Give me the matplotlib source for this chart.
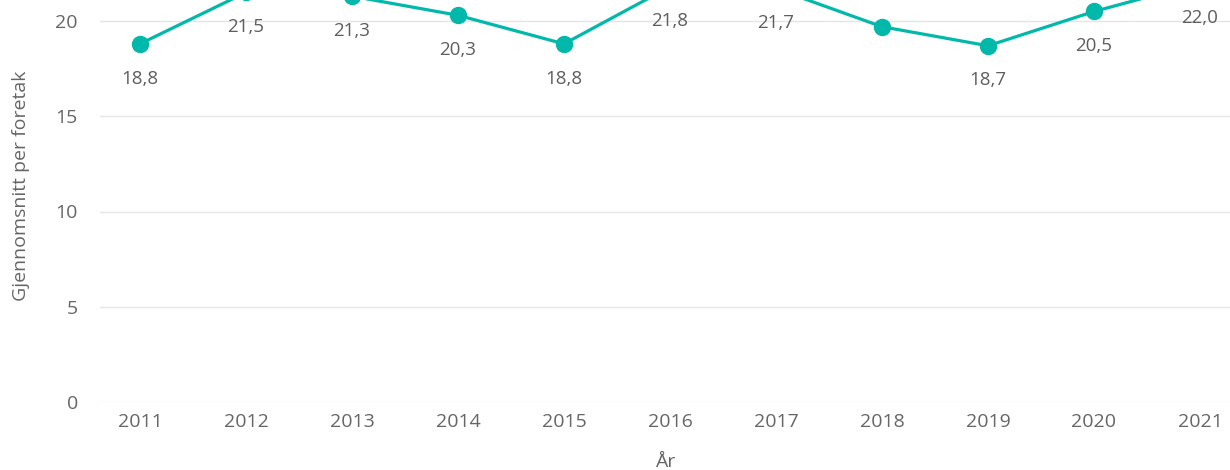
import matplotlib
matplotlib.use('Agg')
import matplotlib.pyplot as plt

# data
years = ['2011', '2012', '2013', '2014', '2015', '2016', '2017', '2018', '2019', '2020', '2021']
values = [18.8, 21.5, 21.3, 20.3, 18.8, 21.8, 21.7, 19.7, 18.7, 20.5, 22.0]
labels_above = ['2018']

plt.rcParams['font.family'] = ['Open Sans', 'DejaVu Sans']

fig = plt.figure(figsize=(12.3, 4.7), dpi=100)
# the top of the chart is cut off in the reference, so the axes run past the figure
ax = fig.add_axes([100 / 1230, 68 / 470, 1130 / 1230, 25 * 19.05 / 470])

x = list(range(len(years)))
ax.plot(x, values, color='#01B8AA', linewidth=2.3, marker='o', markersize=11.5,
        zorder=3, clip_on=False)

for i, v in enumerate(values):
    dy = 25 if years[i] in labels_above else -25
    ax.annotate(f'{v:.1f}'.replace('.', ','), (i, v), xytext=(0, dy),
                textcoords='offset points', ha='center', va='center',
                fontsize=13.5, color='#605E5C', fontweight='medium')

ax.set_xlim(-0.377, 10.283)
ax.set_ylim(0, 25)
ax.set_xticks(x)
ax.set_xticklabels(years)
ax.set_yticks([0, 5, 10, 15, 20])

ax.grid(axis='y', color='#E5E5E5', linewidth=1)
ax.set_axisbelow(True)
for s in ax.spines.values():
    s.set_visible(False)
ax.tick_params(axis='both', length=0, labelsize=14, labelcolor='#666666')
ax.tick_params(axis='y', pad=16)
ax.tick_params(axis='x', pad=8)

ax.set_xlabel('År', fontsize=14, color='#666666', labelpad=16)
ax.set_ylabel('Gjennomsnitt per foretak', fontsize=14, color='#666666')
ax.yaxis.set_label_coords(-0.062, 0.4535)

fig.savefig('out.png', dpi=100)
